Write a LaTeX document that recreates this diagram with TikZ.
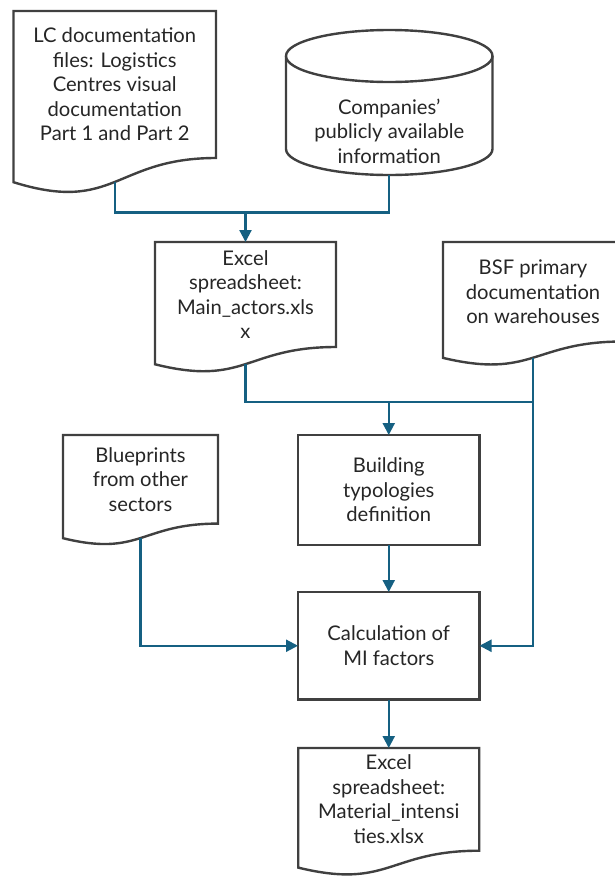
\documentclass[tikz,border=0pt]{standalone}
\usepackage{fontspec}
\setmainfont{Lato}
\usetikzlibrary{calc,arrows.meta}
\definecolor{boxgray}{HTML}{404040}
\definecolor{conblue}{HTML}{156082}
\definecolor{txtgray}{HTML}{262626}
\tikzset{
  txt/.style={align=center, text=txtgray, font=\fontsize{20.2}{24.5}\selectfont, inner sep=0pt, outer sep=0pt},
  docbox/.style={txt, draw=none, minimum width=#1},
  rectbox/.style={txt, draw=boxgray, line width=2.4pt, fill=white},
  boxline/.style={draw=boxgray, line width=2.4pt, fill=white, line join=miter},
  conn/.style={draw=conblue, line width=2.2pt},
  arr/.style={conn, -{Triangle[length=12pt,width=12pt]}}
}
\newcommand\docline[1]{%
  \draw[boxline] let \p1=(#1.north west), \p2=(#1.south east), \n1={\y1-\y2} in
    (\x1,\y1) -- (\x2,\y1) -- (\x2,\y2)
    .. controls ({0.5*\x1+0.5*\x2},\y2) and ({0.5*\x1+0.5*\x2},{\y2-0.380*\n1}) ..
    (\x1,{\y2-0.1646*\n1}) -- cycle;
  \path let \p1=(#1.north west), \p2=(#1.south east), \n1={\y1-\y2} in
    coordinate (#1-b) at ({0.5*\x1+0.5*\x2},{\y2-0.163*\n1});
}
\begin{document}
\begin{tikzpicture}[x=1pt,y=1pt]
\fill[white] (0,0) rectangle (614,-876);
\useasboundingbox (0,0) rectangle (614,-876);

% document-shaped nodes (node = text region)
\node[docbox=202.5pt, minimum height=147pt] (lc) at (114.75,-84.5) {};
\node[docbox=181pt, minimum height=105pt] (ex1) at (245.5,-294.5) {};
\node[docbox=180pt, minimum height=99.5pt] (bsf) at (533,-291.75) {};
\node[docbox=155pt, minimum height=88.6pt] (blue) at (140.5,-479.3) {};
\node[docbox=181pt, minimum height=102.7pt] (final) at (388.75,-799.35) {};

% cylinder
\node[draw=none, minimum width=206.5pt, minimum height=145pt, inner sep=0pt, outer sep=0pt] (cyl) at (389.25,-102.5) {};
\draw[boxline] ([yshift=-26pt]cyl.north west) -- ([yshift=26pt]cyl.south west)
  arc[start angle=180, end angle=360, x radius=103.25pt, y radius=26pt]
  -- ([yshift=-26pt]cyl.north east);
\draw[boxline] ([yshift=-26pt]cyl.north) ellipse[x radius=103.25pt, y radius=26pt];
\node[txt] (cyltext) at (389.25,-131) {Companies’\\publicly available\\information};

% outlines of document shapes
\docline{lc}
\docline{ex1}
\docline{bsf}
\docline{blue}
\docline{final}

% texts of document shapes
\node[txt] (lctext) at (lc)
  {LC documentation\\files: Logistics\\Centres visual\\documentation\\Part 1 and Part 2};
\node[txt] (ex1text) at (ex1)
  {Excel\\spreadsheet:\\Main\_actors.xls\\x};
\node[txt] (bsftext) at (bsf)
  {BSF primary\\documentation\\on warehouses};
\node[txt] (bluetext) at (blue)
  {Blueprints\\from other\\sectors};
\node[txt] (finaltext) at (final)
  {Excel\\spreadsheet:\\Material\_intensi\\ties.xlsx};

% rectangular process boxes
\node[rectbox, minimum width=181.5pt, minimum height=110pt] (build) at (388.75,-490)
  {Building\\typologies\\definition};
\node[rectbox, minimum width=181.5pt, minimum height=107.5pt] (calc) at (388.75,-645.75)
  {Calculation of\\MI factors};

% junctions
\coordinate (j1) at ($(ex1.north)+(0,29.5)$);
\coordinate (j2) at ($(build.north)+(0,33)$);

% connectors
\draw[conn] (lc-b) |- (j1) -| (cyl.south);
\draw[arr] (j1) -- (ex1.north);
\draw[conn] (ex1-b) |- (j2) -| (bsf-b);
\draw[arr] (j2) -- (build.north);
\draw[arr] (bsf-b) |- (calc.east);
\draw[arr] (blue-b) |- (calc.west);
\draw[arr] (build.south) -- (calc.north);
\draw[arr] (calc.south) -- (final.north);
\end{tikzpicture}
\end{document}
